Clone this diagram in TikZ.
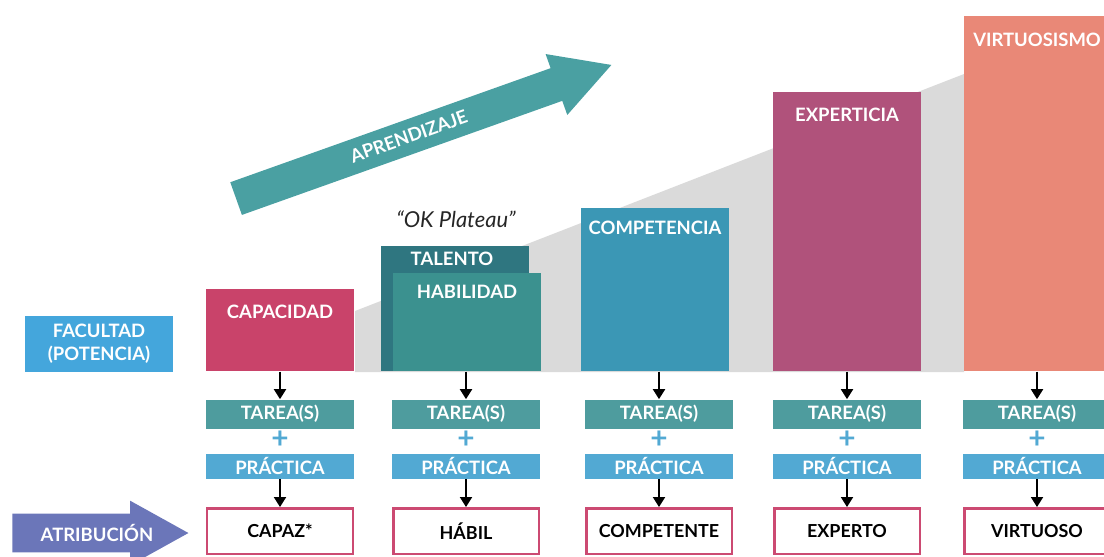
\documentclass[tikz,border=0pt]{standalone}
\usepackage{fontspec}
\setmainfont{Lato}
\usetikzlibrary{arrows.meta,shapes.arrows,positioning}
\definecolor{fondo}{HTML}{DADADA}
\definecolor{capac}{HTML}{C9436A}
\definecolor{talen}{HTML}{2F7680}
\definecolor{habil}{HTML}{3B918F}
\definecolor{compe}{HTML}{3B97B5}
\definecolor{exper}{HTML}{B0527B}
\definecolor{virtu}{HTML}{E98877}
\definecolor{facul}{HTML}{44A6DC}
\definecolor{atrib}{HTML}{6B76B9}
\definecolor{aprend}{HTML}{4AA0A2}
\definecolor{tarea}{HTML}{4E9C9E}
\definecolor{pract}{HTML}{52A9D3}
\definecolor{borde}{HTML}{CC4A72}
\tikzset{
  caja/.style={inner sep=0pt,anchor=north west,minimum width=2.96cm},
  lbl/.style={text=white,font=\fontsize{10.5}{12}\selectfont\bfseries},
  tareabox/.style={lbl,fill=tarea,inner sep=0pt,minimum width=2.96cm,minimum height=0.58cm},
  practbox/.style={lbl,fill=pract,inner sep=0pt,minimum width=2.96cm,minimum height=0.5cm},
  mas/.style={text=pract,font=\fontsize{17}{17}\selectfont\bfseries,inner sep=0pt},
  atribbox/.style={draw=borde,line width=1.4pt,fill=white,inner sep=0pt,minimum width=2.91cm,minimum height=0.91cm,font=\fontsize{10.2}{12}\selectfont\bfseries},
  flecha/.style={-{Triangle[width=0.24cm,length=0.2cm]},line width=1.1pt,black},
  flechota/.style={single arrow,inner sep=0pt,single arrow tip angle=58,lbl}
}
\begin{document}
\begin{tikzpicture}[x=0.02cm,y=-0.02cm]
\clip (0,0) rectangle (1104,556);
% rampa gris
\fill[fondo] (355,372) -- (355,311) -- (964,74) -- (964,372) -- cycle;
% niveles
\node[caja,fill=capac,minimum height=1.64cm] (cap) at (206,289) {};
\node[caja,fill=talen,minimum height=2.5cm] (tal) at (381,246) {};
\node[caja,fill=habil,minimum height=1.96cm] (hab) at (393,273) {};
\node[caja,fill=compe,minimum height=3.26cm] (comp) at (581,208) {};
\node[caja,fill=exper,minimum height=5.58cm] (expe) at (773,92) {};
\node[caja,fill=virtu,minimum height=7.1cm] (virt) at (964,16) {};
\node[lbl] (capT) at (280,312) {CAPACIDAD};
\node[lbl] (talT) at (452,259) {TALENTO};
\node[lbl] (habT) at (467,292) {HABILIDAD};
\node[lbl] (compT) at (655,228) {COMPETENCIA};
\node[lbl] (expeT) at (847,115) {EXPERTICIA};
\node[lbl] (virtT) at (1037,40) {VIRTUOSISMO};
\node[font=\fontsize{12.5}{14}\selectfont\itshape,text=black!85] (plat) at (456,219) {“OK Plateau”};
% facultad y flechas grandes
\node[lbl,fill=facul,minimum width=2.96cm,minimum height=1.12cm,align=center,
  font=\fontsize{10.5}{13}\selectfont\bfseries] (fac) at (99,344) {FACULTAD\\(POTENCIA)};
\node[flechota,fill=aprend,rotate=19.6,minimum height=7.97cm,text height=0.46cm,text depth=0.22cm,
  single arrow head extend=0.3cm] (apr) at (409,137) {APRENDIZAJE};
\node[flechota,fill=atrib,minimum height=3.52cm,text height=0.5cm,text depth=0.26cm,
  single arrow head extend=0.26cm] (atr) at (83,533) {};
\node[lbl] (atrT) at (97,533) {ATRIBUCIÓN};
% columnas
\foreach \i/\cx/\src/\word in {1/280/cap/CAPAZ*,2/466/hab/HÁBIL,3/659/comp/COMPETENTE,4/847/expe/EXPERTO,5/1037/virt/VIRTUOSO}{
  \node[tareabox] (tar\i) at (\cx,414) {TAREA(S)};
  \node[mas] (mas\i) at (\cx,440) {+};
  \node[practbox] (pra\i) at (\cx,466) {PRÁCTICA};
  \node[atribbox] (res\i) at (\cx,531) {\word};
  \draw[flecha] (tar\i.north |- \src.south) -- (tar\i.north);
  \draw[flecha] (pra\i) -- (res\i);
}
\end{tikzpicture}
\end{document}
